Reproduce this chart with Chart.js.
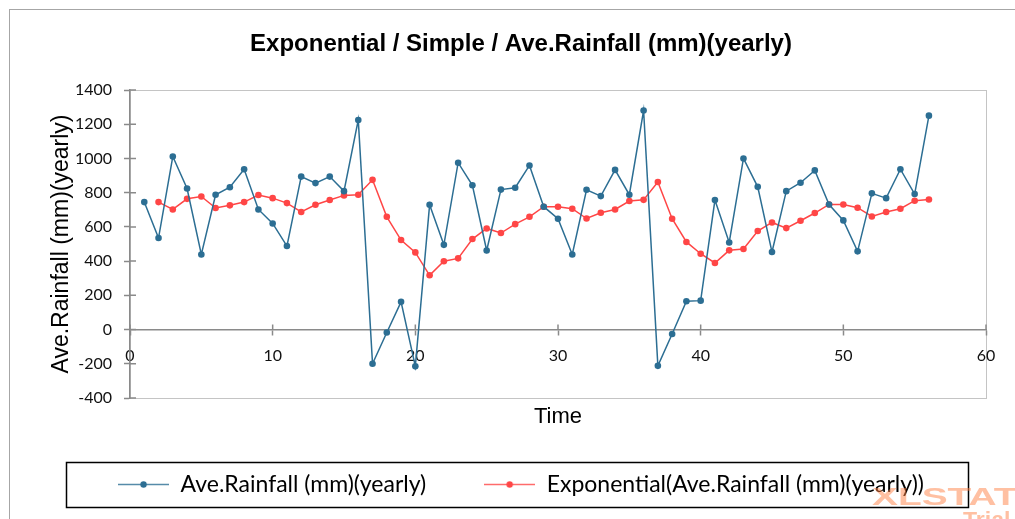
<!DOCTYPE html>
<html><head><meta charset="utf-8">
<script src="https://cdn.jsdelivr.net/npm/chart.js@4.4.1/dist/chart.umd.min.js"></script>
<style>html,body{margin:0;padding:0;background:#fff;overflow:hidden}canvas{display:block}</style>
</head><body>
<canvas id="c" width="1015" height="519"></canvas>
<script>
const titleText = 'Exponential / Simple / Ave.Rainfall (mm)(yearly)';
const seriesNames = ['Ave.Rainfall (mm)(yearly)', 'Exponential(Ave.Rainfall (mm)(yearly))'];
const xAxisTitle = 'Time';
const yAxisTitle = 'Ave.Rainfall (mm)(yearly)';
const watermark = ['XLSTAT', 'Trial'];

const time = [1,2,3,4,5,6,7,8,9,10,11,12,13,14,15,16,17,18,19,20,21,22,23,24,25,26,27,28,
  29,30,31,32,33,34,35,36,37,38,39,40,41,42,43,44,45,46,47,48,49,50,51,52,53,54,55,56];
const rainfall = [745,535,1011,824,439,788,832,937,702,620,488,894,856,894,809,1225,-200,-17,162,-215,
  729,495,975,843,462,818,829,959,718,648,439,817,780,933,788,1280,-212,-26,165,169,
  757,509,1000,834,453,809,858,930,731,638,457,796,768,937,792,1250];
const exponential = [null,745,702,764,778,710,726,745,786,768,739,687,729,757,784,788,875,659,523,451,
  317,399,416,529,591,564,616,659,718,718,706,649,683,702,751,758,862,648,512,443,
  389,463,471,576,626,593,636,681,731,731,712,661,687,706,753,760];
const xTicks = [0, 60, 10];      // min, max, step
const yTicks = [-400, 1400, 200]; // min, max, step

const blue = '#2c6e93';
const red = '#ff4646';

function symbol(color) {
  const c = document.createElement('canvas');
  c.width = 51; c.height = 9;
  const g = c.getContext('2d');
  g.strokeStyle = color; g.globalAlpha = 0.8; g.lineWidth = 1.5;
  g.beginPath(); g.moveTo(0, 4.5); g.lineTo(51, 4.5); g.stroke();
  g.globalAlpha = 1; g.fillStyle = color;
  g.beginPath(); g.arc(25.5, 4.5, 3.2, 0, Math.PI * 2); g.fill();
  return c;
}
const symbols = [symbol(blue), symbol(red)];

const decor = {
  id: 'decor',
  beforeDraw(chart) {
    const ctx = chart.ctx;
    ctx.save();
    ctx.fillStyle = '#fff';
    ctx.fillRect(0, 0, chart.width, chart.height);
    ctx.strokeStyle = '#a6a6a6'; ctx.lineWidth = 1;
    ctx.strokeRect(9.5, 9.5, chart.width + 40, chart.height + 40);
    const a = chart.chartArea;
    ctx.strokeStyle = '#c4c4c4';
    ctx.strokeRect(Math.round(a.left) + 0.5, Math.round(a.top) + 0.5, Math.round(a.right - a.left), Math.round(a.bottom - a.top));
    ctx.restore();
  },
  beforeDatasetsDraw(chart) {
    const ctx = chart.ctx, xs = chart.scales.x, ys = chart.scales.y;
    const a = chart.chartArea;
    const y0 = ys.getPixelForValue(0);
    ctx.save();
    ctx.strokeStyle = '#8a8a8a'; ctx.lineWidth = 1.5;
    ctx.beginPath();
    ys.ticks.forEach(t => { const p = ys.getPixelForValue(t.value); ctx.moveTo(a.left, p); ctx.lineTo(a.left + 6, p); });
    xs.ticks.forEach(t => { const p = xs.getPixelForValue(t.value); ctx.moveTo(p, y0); ctx.lineTo(p, y0 - 5); });
    ctx.stroke();
    ctx.restore();
  },
  afterDraw(chart) {
    const ctx = chart.ctx;
    const hb = chart.legend.legendHitBoxes;
    ctx.save();
    if (hb && hb.length === 2) {
      const l = hb[0].left - 52, r = hb[1].left + hb[1].width + 44;
      const t = hb[0].top - 11, b = hb[0].top + 34;
      ctx.strokeStyle = '#000'; ctx.lineWidth = 1.5;
      ctx.strokeRect(Math.round(l) + 0.5, Math.round(t) + 0.5, Math.round(r - l), Math.round(b - t));
    }
    ctx.fillStyle = 'rgba(255,130,70,0.5)';
    ctx.font = 'bold 24px "Liberation Sans"';
    ctx.setTransform(1.62, 0, 0, 1, 0, 0);
    ctx.fillText(watermark[0], 872 / 1.62, 498);
    ctx.font = 'bold 22px "Liberation Sans"';
    ctx.setTransform(1.05, 0, 0, 1, 0, 0);
    ctx.fillText(watermark[1], 963 / 1.05, 521);
    ctx.restore();
  }
};

const tickFont = {family: 'Lato', size: 16};
new Chart(document.getElementById('c'), {
  type: 'line',
  data: {
    datasets: [
      {
        label: seriesNames[0],
        data: time.map((t, i) => ({x: t, y: rainfall[i]})),
        borderColor: blue, backgroundColor: blue,
        pointBackgroundColor: blue, pointBorderColor: blue,
        borderWidth: 1.5, pointRadius: 3.3, pointBorderWidth: 0, tension: 0,
        xAxisID: 'x', yAxisID: 'y'
      },
      {
        label: seriesNames[1],
        data: time.map((t, i) => ({x: t, y: exponential[i]})),
        borderColor: red, backgroundColor: red,
        pointBackgroundColor: red, pointBorderColor: red,
        borderWidth: 1.5, pointRadius: 3.3, pointBorderWidth: 0, tension: 0,
        xAxisID: 'x', yAxisID: 'y'
      }
    ]
  },
  options: {
    responsive: false,
    animation: false,
    layout: {padding: {left: 56, right: 29, top: 0, bottom: 13}},
    plugins: {
      title: {
        display: true, text: titleText, color: '#000',
        font: {family: 'Liberation Sans', size: 24, weight: 'bold'},
        padding: {top: 29.6, bottom: 31.6}
      },
      legend: {
        display: true, position: 'bottom',
        labels: {
          font: {family: 'Lato', size: 23}, color: '#000',
          usePointStyle: true, pointStyleWidth: 51, padding: 58,
          generateLabels(chart) {
            const items = Chart.defaults.plugins.legend.labels.generateLabels(chart);
            items.forEach((it, i) => { it.pointStyle = symbols[i]; });
            return items;
          }
        }
      },
      tooltip: {enabled: false}
    },
    scales: {
      x: {
        type: 'linear', position: {y: 0}, min: xTicks[0], max: xTicks[1],
        ticks: {stepSize: xTicks[2], font: tickFont, color: '#111', padding: 12,
          callback: v => String(v)},
        grid: {drawOnChartArea: false, tickLength: 5, color: '#8a8a8a', tickWidth: 1.5},
        border: {color: '#8a8a8a', width: 1.5}
      },
      y: {
        type: 'linear', min: yTicks[0], max: yTicks[1],
        ticks: {stepSize: yTicks[2], font: tickFont, color: '#111', padding: 12,
          callback: v => String(v)},
        grid: {drawOnChartArea: false, tickLength: 6, color: '#8a8a8a', tickWidth: 1.5},
        border: {color: '#8a8a8a', width: 1.5},
        title: {display: true, text: yAxisTitle, color: '#000',
          font: {family: 'Liberation Sans', size: 23}, padding: {top: -8, bottom: 0}},
        afterFit(s) { s.width = 74; }
      },
      xt: {
        type: 'linear', position: 'bottom', min: xTicks[0], max: xTicks[1],
        ticks: {display: false}, grid: {display: false}, border: {display: false},
        title: {display: true, text: xAxisTitle, color: '#000',
          font: {family: 'Liberation Sans', size: 22}, padding: {top: 0, bottom: -15.2}},
        afterFit(s) { s.height = 17; }
      }
    }
  },
  plugins: [decor]
});
</script>
</body></html>
